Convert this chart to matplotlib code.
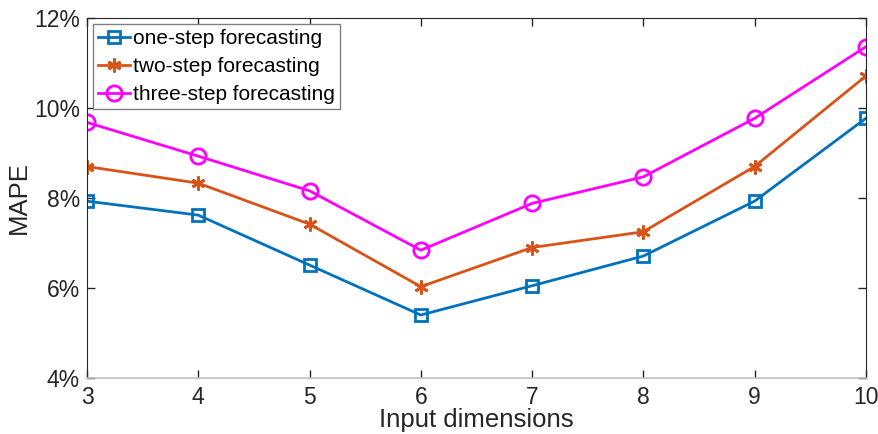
import matplotlib.pyplot as plt
from matplotlib.ticker import FuncFormatter

plt.rcParams['font.family'] = ['Liberation Sans', 'DejaVu Sans']

dims = [3, 4, 5, 6, 7, 8, 9, 10]
one_step = [7.93, 7.62, 6.51, 5.40, 6.05, 6.71, 7.93, 9.77]
two_step = [8.70, 8.33, 7.42, 6.03, 6.90, 7.25, 8.70, 10.71]
three_step = [9.68, 8.93, 8.16, 6.84, 7.88, 8.47, 9.77, 11.36]

fig = plt.figure(figsize=(8.79, 4.34), dpi=100)
ax = fig.add_axes([0.099, 0.129, 0.886, 0.8295])

ax.plot(dims, one_step, marker='s', color='#0072BD', linewidth=2, markersize=9,
        markerfacecolor='none', markeredgewidth=2, label='one-step forecasting')
ax.plot(dims, two_step, marker=(6, 2, 0), color='#D95319', linewidth=2, markersize=10,
        markeredgewidth=2, label='two-step forecasting')
ax.plot(dims, three_step, marker='o', color='#FF00FF', linewidth=2, markersize=11,
        markerfacecolor='none', markeredgewidth=2, label='three-step forecasting')

ax.set_xlim(3, 10)
ax.set_ylim(4, 12)
ax.set_xticks(dims)
ax.set_yticks([4, 6, 8, 10, 12])
ax.yaxis.set_major_formatter(FuncFormatter(lambda v, p: f'{v:.0f}%'))
ax.tick_params(direction='in', top=True, right=True, length=6, labelsize=16.5,
               colors='#262626', width=1)
ax.tick_params(axis='x', pad=6)
ax.tick_params(axis='y', pad=5)
for s in ax.spines.values():
    s.set_color('#262626')
ax.spines['bottom'].set_color('#bfbfbf')
ax.spines['bottom'].set_linewidth(1.2)

ax.set_xlabel('Input dimensions', fontsize=18.5, color='#262626', labelpad=-1)
ax.set_ylabel('MAPE', fontsize=18.5, color='#262626', labelpad=2)

leg = ax.legend(loc='upper left', fontsize=15, fancybox=False, framealpha=1,
                handlelength=1.5, handletextpad=0.15, borderpad=0.25, labelspacing=0.42,
                borderaxespad=0.3)
leg.get_frame().set_edgecolor('#808080')
leg.get_frame().set_linewidth(1)

plt.savefig('out.png', dpi=100)
